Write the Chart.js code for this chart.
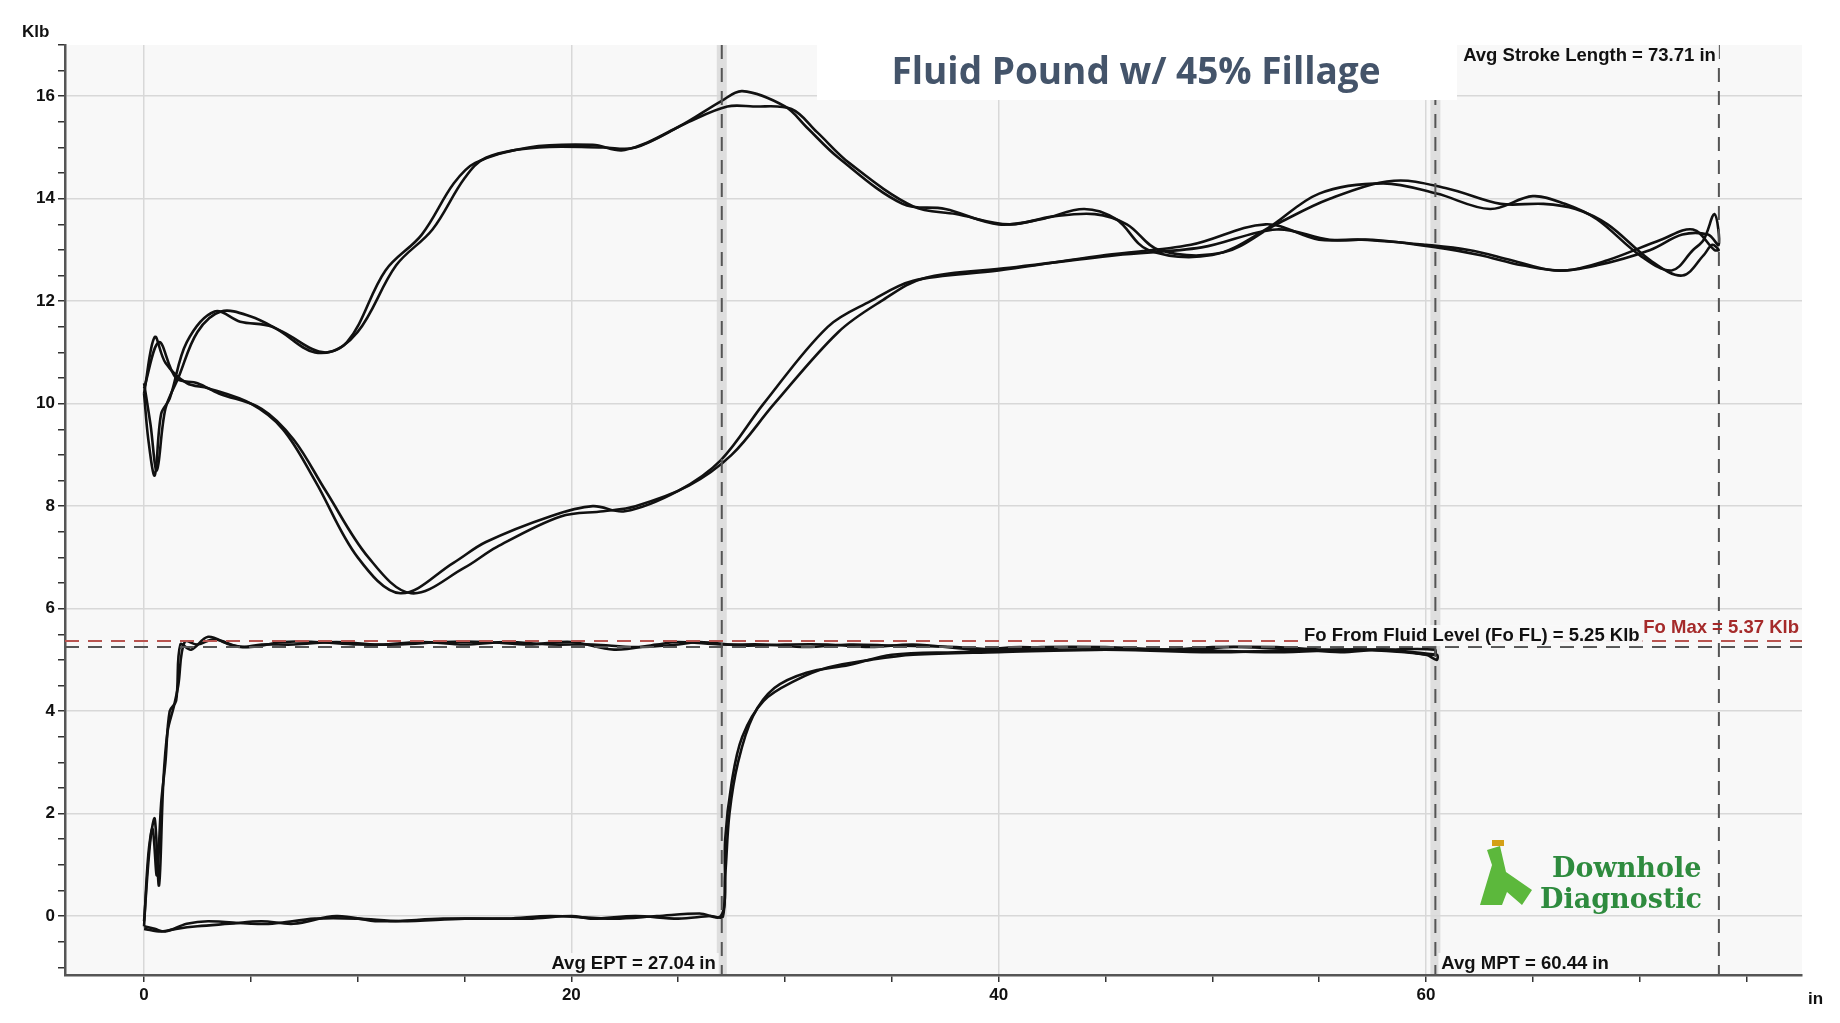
<!DOCTYPE html>
<html><head><meta charset="utf-8">
<script src="https://cdn.jsdelivr.net/npm/chart.js@4"></script>
<style>html,body{margin:0;background:#fff}#w{width:1840px;height:1023px}</style>
</head><body><div id="w"><canvas id="c"></canvas></div>
<script>
// Surface card (two strokes)
const surf1X=[0,0.2,0.5,0.8,1.2,2,3.3,4.5,6,8,9.5,11.3,13,14.5,15.5,18,21,22.5,25,27,28,30,31,32.5,35.5,37.5,40,42,44,45.5,47,50,52.5,55,58,60.5,63,65,66.5,68,70,71.5,72.5,73,73.5,73.7,73.2,72,70.5,68,66,64,62,60,57,55,52.5,49,45,40,36,34,32,29,27,25,22.5,21,19,16,14.5,12,10,8,6.5,5,3,2,1,0.5,0];
const surf1Y=[10.2,9.3,8.6,9.8,10.1,11.2,11.8,11.6,11.5,11.0,11.2,12.6,13.3,14.3,14.7,15.0,15.05,14.95,15.4,15.9,16.1,15.8,15.4,14.8,13.9,13.8,13.5,13.6,13.8,13.6,13.0,12.9,13.4,14.1,14.3,14.1,13.8,14.05,13.9,13.6,12.9,12.6,13.0,13.2,13.7,13.1,13.3,13.3,13.0,12.7,12.6,12.8,13.0,13.1,13.2,13.2,13.5,13.1,12.9,12.6,12.4,12.0,11.5,10.0,8.9,8.3,7.9,8.0,7.8,7.3,6.9,6.3,7.0,8.5,9.5,10.0,10.3,10.4,10.8,11.3,10.2];
const surf2X=[0,0.3,0.6,1,1.6,2.5,3.6,5,6.5,8.5,10,11.8,13.5,15,16,18.5,21.5,23,25.5,27.3,28.5,30.3,31.5,33,36,38,40.5,42.5,44.5,46,47.5,50.5,53,55.5,58.5,61,63.5,65.5,67,68.5,70.5,72,73,73.4,73.7,73.5,72.5,71,68.5,66.5,64.5,62.5,60.5,57.5,55.5,53,49.5,45.5,40.5,36.5,34.5,32.5,29.5,27.5,25.5,23,21.5,19.5,16.5,15,12.5,10.5,8.5,7,5.5,3.5,2.5,1.5,0.7,0];
const surf2Y=[10.4,9.6,8.7,9.9,10.5,11.4,11.8,11.7,11.4,11.0,11.4,12.7,13.4,14.4,14.8,15.0,15.0,15.0,15.5,15.8,15.8,15.75,15.3,14.7,13.85,13.7,13.5,13.65,13.7,13.5,13.0,12.95,13.5,14.0,14.35,14.2,13.9,13.9,13.8,13.5,12.8,12.5,12.9,13.1,13.0,13.0,13.4,13.2,12.8,12.6,12.7,12.9,13.05,13.2,13.2,13.4,13.05,12.9,12.65,12.45,12.0,11.4,10.0,9.0,8.4,8.0,7.9,7.8,7.2,6.8,6.3,7.0,8.3,9.3,9.9,10.2,10.4,10.5,11.2,10.3];
// Downhole pump card (two strokes)
const pump1X=[0,0.2,0.4,0.6,0.8,1.0,1.2,1.5,1.7,2.2,3,4,5,6.5,8,10,12,14,16,18,20,22,24,25,27,29,31,33,35,38,40,42,45,48,50,53,55,57,59,60.4,60.4,58,55,50,45,40,36,34,32,30.5,29,28,27.5,27.2,27.1,26.5,25,23,21,20,18,15,12,10,8,6,5,3,2,1,0.5,0];
const pump1Y=[-0.2,1.2,1.7,0.8,2.2,3.0,4.0,4.2,5.3,5.2,5.45,5.3,5.25,5.35,5.35,5.3,5.3,5.35,5.35,5.3,5.35,5.2,5.3,5.35,5.3,5.3,5.25,5.3,5.28,5.25,5.2,5.25,5.25,5.2,5.25,5.25,5.2,5.2,5.15,5.1,5.2,5.2,5.2,5.15,5.2,5.15,5.1,5.0,4.85,4.6,4.2,3.5,2.6,1.5,0.0,0.0,-0.05,0.0,-0.05,0.0,-0.05,-0.05,-0.1,-0.05,-0.05,-0.15,-0.15,-0.1,-0.15,-0.3,-0.25,-0.2];
const pump2X=[0,0.3,0.5,0.7,0.9,1.1,1.4,1.6,1.9,2.5,3.3,4.5,5.5,7,9,11,13,15,17,19,21,23,25,26,28,30,32,34,36,39,41,43,46,49,51,54,56,58,60,60.5,60.5,57,53,48,43,38,35,33,31,29.5,28.5,27.8,27.4,27.2,27.0,26,24,22,19,17,14,11,9,7,5.5,4,2.5,1.5,0.8,0];
const pump2Y=[-0.1,1.5,1.9,0.6,2.6,3.6,4.1,4.5,5.35,5.3,5.4,5.25,5.3,5.3,5.35,5.3,5.35,5.3,5.35,5.3,5.3,5.25,5.3,5.35,5.28,5.3,5.3,5.25,5.3,5.2,5.25,5.2,5.2,5.2,5.25,5.2,5.15,5.2,5.1,5.0,5.1,5.2,5.15,5.2,5.2,5.15,5.1,4.9,4.75,4.45,3.9,3.0,2.0,0.8,0.0,0.05,0.0,-0.05,0.0,-0.05,-0.05,-0.1,0.0,-0.15,-0.1,-0.15,-0.2,-0.25,-0.3,-0.25];
const yTicks=[0,2,4,6,8,10,12,14,16];
const xTicks=[0,20,40,60];
const foFL=5.25, foMax=5.37, avgEPT=27.04, avgMPT=60.44, avgSL=73.71;

const pts=(xs,ys)=>xs.map((x,i)=>({x,y:ys[i]}));
const ds=(xs,ys)=>({data:pts(xs,ys),showLine:true,borderColor:'#111',borderWidth:2.6,pointRadius:0,tension:0.35,fill:false});

const deco={id:'deco',
beforeDraw(ch){const {ctx,chartArea:a,scales:{x,y}}=ch;ctx.save();ctx.fillStyle='#f8f8f8';ctx.fillRect(a.left,a.top,a.width,a.height);
 [avgEPT,avgMPT].forEach(v=>{ctx.fillStyle='#dedede';ctx.fillRect(x.getPixelForValue(v)-5,a.top,10,a.height);});
 ctx.restore();},
afterDatasetsDraw(ch){const {ctx,chartArea:a,scales:{x,y}}=ch;ctx.save();
 ctx.lineWidth=2;ctx.setLineDash([14,9]);
 const hl=(v,c)=>{ctx.strokeStyle=c;ctx.beginPath();ctx.moveTo(a.left,y.getPixelForValue(v));ctx.lineTo(a.right,y.getPixelForValue(v));ctx.stroke();};
 hl(foMax,'#b85450');hl(foFL,'#555');
 [avgEPT,avgMPT,avgSL].forEach(v=>{ctx.strokeStyle='#555';ctx.beginPath();ctx.moveTo(x.getPixelForValue(v),a.top);ctx.lineTo(x.getPixelForValue(v),a.bottom);ctx.stroke();});
 ctx.setLineDash([]);
 ctx.font='bold 18.5px Liberation Sans, Arial';ctx.textBaseline='bottom';
 const lab=(t,px,py,al,col)=>{ctx.textAlign=al;const w=ctx.measureText(t).width;const lx=al==='right'?px-w:px;ctx.fillStyle='rgba(248,248,248,0.95)';ctx.fillRect(lx-3,py-20,w+6,21);ctx.fillStyle=col||'#111';ctx.fillText(t,px,py);};
 lab('Avg EPT = 27.04 in',x.getPixelForValue(avgEPT)-6,a.bottom-2,'right');
 lab('Avg MPT = 60.44 in',x.getPixelForValue(avgMPT)+6,a.bottom-2,'left');
 lab('Avg Stroke Length = 73.71 in',x.getPixelForValue(avgSL)-3,a.top+20,'right');
 lab('Fo From Fluid Level (Fo FL) = 5.25 Klb',x.getPixelForValue(70.0),y.getPixelForValue(foFL)-2,'right');
 ctx.textAlign='right';ctx.fillStyle='#a52a2a';ctx.fillText('Fo Max = 5.37 Klb',a.right-3,y.getPixelForValue(foMax)-4);
 // title box
 ctx.fillStyle='#fff';ctx.fillRect(817,45,640,55);
 ctx.fillStyle='#44546a';ctx.font='bold 37px "Open Sans", Calibri, sans-serif';ctx.textAlign='center';ctx.textBaseline='middle';ctx.fillText('Fluid Pound w/ 45% Fillage',1136,73);
 // logo
 ctx.fillStyle='#2e8b3e';ctx.font='bold 27px "DejaVu Serif", serif';ctx.textAlign='left';ctx.textBaseline='alphabetic';
 ctx.fillText('Downhole',1552,877);ctx.fillText('Diagnostic',1540,908);
 ctx.fillStyle='#5cb83c';ctx.beginPath();ctx.moveTo(1480,905);ctx.lineTo(1492,865);ctx.lineTo(1487,850);ctx.lineTo(1500,846);ctx.lineTo(1506,872);ctx.lineTo(1532,890);ctx.lineTo(1522,905);ctx.lineTo(1507,892);ctx.lineTo(1502,905);ctx.closePath();ctx.fill();
 ctx.fillStyle='#d4a017';ctx.fillRect(1492,840,12,6);
 ctx.fillStyle='#111';ctx.font='bold 17px Liberation Sans, Arial';ctx.textAlign='left';ctx.textBaseline='alphabetic';
 ctx.fillText('Klb',22,37);ctx.fillText('in',1808,1004);
 ctx.restore();}};

new Chart(document.getElementById('c'),{type:'scatter',
data:{datasets:[ds(surf1X,surf1Y),ds(surf2X,surf2Y),ds(pump1X,pump1Y),ds(pump2X,pump2Y)]},
options:{responsive:true,maintainAspectRatio:false,animation:false,
 layout:{padding:{left:0,right:38,top:45,bottom:2}},
 plugins:{legend:{display:false},tooltip:{enabled:false}},
 scales:{
 x:{type:'linear',min:-3.7,max:77.6,afterBuildTicks:s=>{const t=[];for(let v=0;v<=75;v+=5)t.push({value:v});s.ticks=t;},
  afterFit:s=>{s.height=46;},
  ticks:{autoSkip:false,maxRotation:0,color:'#111',font:{size:17,weight:'bold',family:'Liberation Sans'},callback:v=>xTicks.includes(v)?v:''},
  grid:{color:c=>c.tick&&xTicks.includes(c.tick.value)?'#d8d8d8':'rgba(0,0,0,0)',tickColor:'#333',tickLength:7,lineWidth:1.5},
  border:{color:'#555',width:2.5}},
 y:{min:-1.15,max:17.0,afterBuildTicks:s=>{const t=[];for(let v=-1;v<=17;v+=0.5)t.push({value:v});s.ticks=t;},
  afterFit:s=>{s.width=65;},
  ticks:{autoSkip:false,color:'#111',font:{size:17,weight:'bold',family:'Liberation Sans'},callback:v=>yTicks.includes(v)?v:''},
  grid:{color:c=>c.tick&&yTicks.includes(c.tick.value)?'#d8d8d8':'rgba(0,0,0,0)',tickColor:'#333',tickLength:7,lineWidth:1.5},
  border:{color:'#555',width:2.5}}}},
plugins:[deco]});
</script></body></html>
